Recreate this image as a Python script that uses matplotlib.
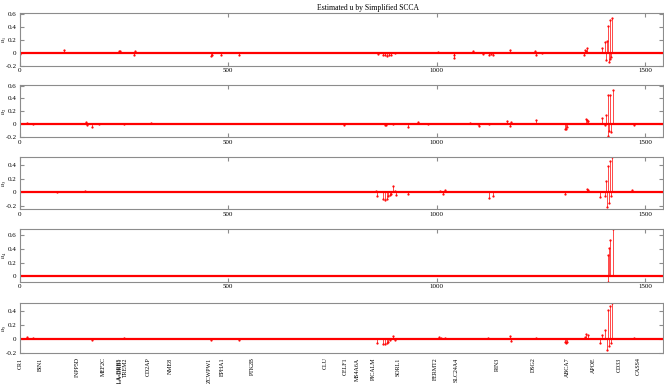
import matplotlib
matplotlib.use("Agg")
import matplotlib.pyplot as plt
import numpy as np

plt.rcParams['font.family'] = ['Liberation Serif', 'DejaVu Serif']
plt.rcParams['mathtext.fontset'] = 'stix'
plt.rcParams['axes.unicode_minus'] = False

n_snp = 1542

# nonzero entries of each estimated u (SNP index, weight)
u1_idx = [0, 107, 239, 241, 274, 276, 459, 461, 482, 526, 858, 872, 876, 880, 885, 891, 900,
          1004, 1040, 1042, 1086, 1110, 1125, 1130, 1135, 1176, 1236, 1238, 1252, 1353, 1355,
          1358, 1361, 1396, 1402, 1405, 1407, 1410, 1412, 1414, 1416, 1418, 1420]
u1_val = [-0.02, 0.04, 0.03, 0.02, -0.04, 0.02, -0.05, -0.03, -0.04, -0.04, -0.02, -0.03, -0.04,
          -0.05, -0.04, -0.03, -0.01, 0.01, -0.08, -0.03, 0.02, -0.02, -0.03, -0.02, -0.03, 0.05,
          0.03, -0.04, -0.01, -0.04, 0.05, 0.03, 0.07, 0.08, 0.16, -0.11, 0.18, 0.42, -0.14,
          -0.09, 0.51, -0.06, 0.54]

u2_idx = [17, 33, 159, 162, 173, 191, 250, 314, 777, 876, 878, 895, 932, 955, 980, 1080, 1098,
          1102, 1124, 1168, 1175, 1177, 1238, 1308, 1310, 1312, 1357, 1359, 1362, 1396, 1402,
          1406, 1409, 1410, 1413, 1416, 1418, 1421, 1473]
u2_val = [0.02, 0.01, 0.04, -0.02, -0.05, 0.01, 0.01, 0.02, -0.02, -0.02, -0.02, 0.01, -0.05,
          0.03, 0.01, 0.02, 0.01, -0.03, 0.01, 0.05, -0.03, 0.04, 0.07, -0.07, -0.08, -0.05,
          0.08, 0.06, 0.05, 0.10, -0.02, 0.15, -0.18, 0.45, -0.10, 0.45, -0.12, 0.54, -0.02]

u3_idx = [91, 158, 855, 857, 872, 876, 880, 884, 888, 891, 895, 899, 902, 932, 1008, 1014, 1020,
          1124, 1134, 1308, 1360, 1362, 1391, 1403, 1405, 1408, 1410, 1413, 1416, 1418, 1420, 1467]
u3_val = [0.01, 0.02, 0.02, -0.05, -0.10, -0.11, -0.10, -0.06, -0.04, -0.03, 0.09, 0.02, -0.04,
          -0.02, 0.02, -0.02, 0.03, -0.08, -0.06, -0.02, 0.04, 0.03, -0.07, -0.05, 0.16, -0.21,
          0.39, -0.16, 0.46, -0.05, 0.51, 0.03]

u4_idx = [1409, 1410, 1413, 1416, 1421]
u4_val = [-0.08, 0.31, 0.42, 0.53, 0.69]

u5_idx = [17, 33, 173, 250, 458, 526, 856, 872, 876, 880, 884, 888, 895, 900, 1006, 1010, 1020,
          1122, 1175, 1177, 1237, 1308, 1310, 1312, 1354, 1358, 1362, 1391, 1396, 1402, 1408,
          1410, 1413, 1416, 1418, 1420, 1472]
u5_val = [0.03, 0.02, -0.01, 0.01, -0.01, -0.01, -0.05, -0.07, -0.07, -0.06, -0.04, -0.02, 0.04,
          -0.02, 0.03, 0.02, 0.01, 0.02, 0.04, -0.03, 0.02, -0.04, -0.05, -0.04, 0.03, 0.07,
          0.06, -0.05, 0.06, 0.13, -0.16, 0.41, -0.10, 0.47, -0.06, 0.51, 0.01]

ylims = [(-0.2, 0.61), (-0.2, 0.61), (-0.25, 0.51), (-0.08, 0.69), (-0.2, 0.51)]
yticks = [[-0.2, 0, 0.2, 0.4, 0.6], [-0.2, 0, 0.2, 0.4, 0.6], [-0.2, 0, 0.2, 0.4],
          [0, 0.2, 0.4, 0.6], [-0.2, 0, 0.2, 0.4]]

gene_names = ['CR1', 'BIN1', 'INPP5D', 'MEF2C', 'HLA-DRB5', 'HLA-DRB1', 'TREM2', 'CD2AP', 'NME8',
              'ZCWPW1', 'EPHA1', 'PTK2B', 'CLU', 'CELF1', 'MS4A6A', 'PICALM', 'SORL1', 'FERMT2',
              'SLC24A4', 'RIN3', 'DSG2', 'ABCA7', 'APOE', 'CD33', 'CASS4']
gene_pos = [1, 49, 139, 201, 239, 242, 255, 309, 362, 455, 487, 558, 732, 781, 809, 847, 907,
            996, 1046, 1146, 1232, 1314, 1376, 1436, 1483]

series = [(u1_idx, u1_val), (u2_idx, u2_val), (u3_idx, u3_val), (u4_idx, u4_val), (u5_idx, u5_val)]

# panel boxes in figure fractions (left, bottom, width, height)
left, width = 0.0294, 0.9691
boxes = [(0.8289, 0.1365), (0.6432, 0.1354), (0.4549, 0.1354), (0.2664, 0.1365), (0.0799, 0.1318)]

fig = plt.figure(figsize=(6.64, 3.84), dpi=100)
edge = '#8c8c8c'

for k, ((idx, val), (b, h)) in enumerate(zip(series, boxes)):
    ax = fig.add_axes([left, b, width, h])
    idx = np.array(idx)
    val = np.array(val)
    ax.vlines(idx, 0, val, color='red', lw=0.5)
    ax.plot(idx, val, '.', color='red', ms=1.2)
    ax.axhline(0, color='red', lw=1.6)
    ax.set_xlim(0, n_snp)
    ax.set_ylim(*ylims[k])
    ax.set_yticks(yticks[k])
    ax.set_yticklabels(['%g' % t for t in yticks[k]])
    for s in ax.spines.values():
        s.set_color(edge)
        s.set_linewidth(0.8)
    ax.tick_params(direction='in', top=True, right=True, length=3, width=0.8,
                   colors=edge, labelcolor='black', labelsize=5, pad=2)
    ax.set_ylabel(r'$\hat{u}_%d$' % (k + 1), fontsize=4.5)
    ax.yaxis.set_label_coords(-0.0165, 0.5)
    if k < 4:
        ax.set_xticks([0, 500, 1000, 1500])
        ax.set_xticklabels(['0', '500', '1000', '1500'])
    else:
        ax.set_xticks(gene_pos)
        ax.set_xticklabels(gene_names, rotation=90, va='top', fontsize=4.3)
        ax.tick_params(axis='x', length=0, pad=3)

fig.text(0.554, 0.99, 'Estimated u by Simplified SCCA', ha='center', va='top', fontsize=5.5)

fig.savefig('out.png', dpi=100)
